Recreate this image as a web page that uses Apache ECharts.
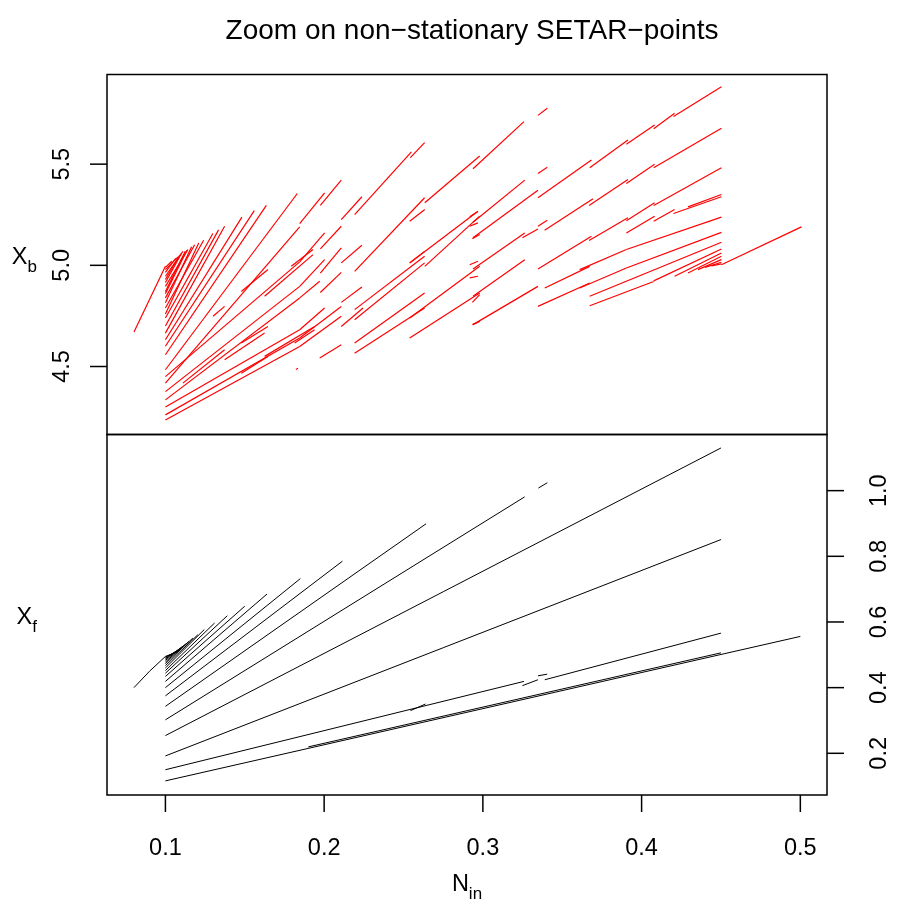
<!DOCTYPE html>
<html>
<head>
<meta charset="utf-8">
<script src="https://cdn.jsdelivr.net/npm/echarts@6/dist/echarts.min.js"></script>
<style>
html,body{margin:0;padding:0;background:#fff;}
#c{width:899px;height:905px;}
</style>
</head>
<body>
<div id="c"></div>
<script>
// ---- tick values ----
const xTicks = [0.1, 0.2, 0.3, 0.4, 0.5];
const yTopTicks = [4.5, 5.0, 5.5];
const yBotTicks = [0.2, 0.4, 0.6, 0.8, 1.0];

// ---- top panel (X_b) segments: [x0, y0, x1, y1] ----
const topFan = [
  [0.0802,4.670,0.1,4.995],
  [0.1,4.990,0.1040,5.020],[0.1,4.979,0.1079,5.042],[0.1,4.965,0.1065,5.035],
  [0.1,4.946,0.1110,5.069],[0.1,4.930,0.1090,5.050],[0.1,4.915,0.1100,5.058],
  [0.1,4.896,0.1142,5.078],[0.1,4.870,0.1125,5.070],[0.1,4.860,0.1135,5.075],
  [0.1,4.839,0.1184,5.102],[0.1,4.815,0.1165,5.092],[0.1,4.789,0.1241,5.124],
  [0.1,4.760,0.1210,5.110],[0.1,4.740,0.1299,5.157],[0.1,4.700,0.1335,5.175],
  [0.1,4.665,0.1373,5.193],[0.1,4.632,0.1482,5.238],[0.1,4.600,0.1560,5.270],
  [0.1,4.558,0.1636,5.296],[0.1,4.484,0.1831,5.355],[0.1,4.418,0.1846,5.190]
];
const topLeft = [
  [0.1,4.450,0.1846,5.017],[0.1,4.376,0.1846,4.896],[0.1,4.335,0.1846,4.839],
  [0.1,4.300,0.1846,4.682],[0.1,4.261,0.1846,4.641],[0.1,4.236,0.1846,4.599],
  [0.1110,4.418,0.1373,4.583],[0.1373,4.533,0.1625,4.665],[0.1478,4.616,0.1646,4.698],
  [0.1300,4.748,0.1373,4.797],[0.1625,4.550,0.1940,4.698],[0.1478,4.467,0.1646,4.550],
  [0.1814,4.616,0.1940,4.682],[0.1625,4.847,0.1930,5.053],[0.1478,4.871,0.1646,4.979],
  [0.1793,4.995,0.1930,5.078],[0.1822,4.485,0.1835,4.492],
  [0.1846,5.206,0.2003,5.358],[0.1976,5.296,0.2108,5.421],[0.2108,5.226,0.2238,5.339],
  [0.2192,5.251,0.2550,5.561],[0.2543,5.532,0.2633,5.606],[0.1846,5.017,0.2003,5.160],
  [0.1976,5.081,0.2108,5.193],[0.2108,5.012,0.2238,5.099],[0.2192,4.970,0.2633,5.334],
  [0.2539,5.218,0.2634,5.276],[0.1846,4.896,0.2003,5.028],[0.1976,4.962,0.2108,5.086],
  [0.1846,4.839,0.1972,4.921],[0.1976,4.866,0.2108,4.965],[0.2108,4.817,0.2238,4.893],
  [0.2192,4.781,0.2633,5.045],[0.2108,4.698,0.2245,4.789],[0.2192,4.731,0.2633,5.012],
  [0.2539,5.012,0.2633,5.069],[0.2192,4.616,0.2633,4.863],[0.2192,4.566,0.2633,4.789],
  [0.1846,4.682,0.2003,4.789],[0.1846,4.641,0.2108,4.797],[0.1846,4.599,0.2108,4.748],
  [0.1972,4.542,0.2108,4.607]
];
const topMid = [
  [0.2938,5.477,0.3259,5.710],[0.3347,5.741,0.3406,5.776],[0.2634,5.309,0.2980,5.540],
  [0.3347,5.454,0.3406,5.485],[0.2938,5.213,0.3264,5.421],[0.2938,5.136,0.3347,5.371],
  [0.3249,5.136,0.3347,5.180],[0.3347,5.193,0.3406,5.223],[0.2938,4.982,0.3264,5.160],
  [0.2938,4.847,0.3264,5.028],[0.2938,4.707,0.3347,4.896],[0.3390,4.888,0.3673,4.995],
  [0.3347,4.797,0.3673,4.913],[0.2634,4.995,0.2980,5.243],[0.2539,5.012,0.2969,5.267],
  [0.2539,4.740,0.2980,4.995],[0.2539,4.641,0.2980,4.863],[0.2934,5.132,0.2980,5.152],
  [0.2934,4.707,0.2980,4.723],[0.2934,4.817,0.2980,4.855],[0.2917,5.240,0.2969,5.266],
  [0.2917,5.193,0.2969,5.210],[0.2917,5.003,0.2969,5.020],[0.2917,4.938,0.2969,4.946]
];
const topRight = [
  [0.3347,5.334,0.3684,5.520],[0.3673,5.482,0.3914,5.619],[0.3904,5.598,0.4082,5.693],
  [0.4076,5.675,0.4208,5.751],[0.4201,5.735,0.4503,5.883],
  [0.3389,5.173,0.3694,5.329],[0.3669,5.296,0.3914,5.424],[0.3904,5.404,0.4082,5.499],
  [0.4076,5.482,0.4503,5.677],
  [0.3347,4.982,0.3684,5.144],[0.3669,5.123,0.3914,5.235],[0.3904,5.220,0.4082,5.309],
  [0.4076,5.296,0.4503,5.482],
  [0.3904,5.160,0.4082,5.243],[0.4076,5.218,0.4208,5.276],[0.4201,5.256,0.4503,5.339],
  [0.4292,5.289,0.4503,5.350],
  [0.3610,4.979,0.3904,5.078],[0.3904,5.078,0.4503,5.238],
  [0.3610,4.888,0.3904,4.987],[0.3904,4.987,0.4503,5.163],
  [0.3673,4.847,0.4503,5.114],[0.3673,4.800,0.4076,4.920],[0.4076,4.923,0.4503,5.081],
  [0.4208,4.946,0.4503,5.061],[0.4292,4.962,0.4503,5.045],[0.4355,4.979,0.4503,5.028],
  [0.4400,4.990,0.4503,5.015],[0.4440,4.997,0.4503,5.007],
  [0.4503,5.003,0.5007,5.190]
];

// ---- bottom panel (X_f) segments ----
const botMain = [
  [0.0802,0.400,0.0900,0.450],[0.0900,0.450,0.1,0.495],
  [0.1,0.116,0.5,0.556],[0.19,0.2195,0.45,0.506],
  [0.1,0.150,0.3259,0.419],[0.339,0.424,0.45,0.566],
  [0.1,0.192,0.45,0.851],[0.1,0.254,0.45,1.130],
  [0.1,0.302,0.3263,0.981],[0.1,0.343,0.2642,0.899],
  [0.1,0.375,0.2115,0.785],[0.1,0.400,0.185,0.732]
];
const botFan = [
  [0.1,0.419,0.164,0.685],[0.1,0.434,0.150,0.648],[0.1,0.444,0.139,0.619],
  [0.1,0.452,0.131,0.597],[0.1,0.460,0.1245,0.577],[0.1,0.467,0.1204,0.561],
  [0.1,0.473,0.1173,0.551],[0.1,0.478,0.1148,0.541],[0.1,0.483,0.1128,0.533],
  [0.1,0.487,0.1110,0.526],[0.1,0.490,0.1096,0.520],[0.1,0.493,0.1085,0.514],
  [0.1,0.495,0.1075,0.509]
];
const botFrag = [
  [0.335,1.008,0.3406,1.024],[0.2544,0.330,0.2638,0.350],
  [0.3249,0.406,0.3347,0.424],[0.3347,0.436,0.3405,0.441]
];

const xMin = 0.0632, xMax = 0.5168;
const yTopMin = 4.164, yTopMax = 5.943;
const yBotMin = 0.073, yBotMax = 1.171;

function segRenderer(color, w){
  return function(params, api){
    const p0 = api.coord([api.value(0), api.value(1)]);
    const p1 = api.coord([api.value(2), api.value(3)]);
    return {type:'line', shape:{x1:p0[0],y1:p0[1],x2:p1[0],y2:p1[1]},
            style:{stroke:color, lineWidth:w}};
  };
}

const FONT = 'Liberation Sans';
const labFS = 23.5;
const TICK = 17;
const subRich = {
  n:{fontFamily:FONT, fontSize:labFS, color:'#000', lineHeight:30, verticalAlign:'bottom'},
  s:{fontFamily:FONT, fontSize:17, color:'#000', lineHeight:30, verticalAlign:'bottom', padding:[0,0,-6,0]}
};
const segEnc = {x:[0,2], y:[1,3]};
const hiddenAxis = {axisLine:{show:false}, axisTick:{show:false}, axisLabel:{show:false}, splitLine:{show:false}};

// tick segments, in the same [x0,y0,x1,y1] form, drawn inside thin strip grids
// placed just outside the panels (strip axes share the panels' ranges)
const xTickSegs = xTicks.map(v => [v, 0, v, 1]);
const yTopTickSegs = yTopTicks.map(v => [0, v, 1, v]);
const yBotTickSegs = yBotTicks.map(v => [0, v, 1, v]);

const chart = echarts.init(document.getElementById('c'), null, {renderer:'canvas'});
chart.setOption({
  animation:false,
  backgroundColor:'#fff',
  title:{
    text:'Zoom on non\u2212stationary SETAR\u2212points',
    left:467, top:12, textAlign:'center',
    textStyle:{fontFamily:FONT, fontSize:28, fontWeight:'normal', color:'#000'}
  },
  grid:[
    {left:107, top:74.5, width:720, height:360, show:true, borderColor:'#000', borderWidth:1.5, backgroundColor:'transparent'},
    {left:107, top:434.5, width:720, height:360.5, show:true, borderColor:'#000', borderWidth:1.5, backgroundColor:'transparent'},
    {left:107, top:795, width:720, height:TICK, show:false},
    {left:107-TICK, top:74.5, width:TICK, height:360, show:false},
    {left:827, top:434.5, width:TICK, height:360.5, show:false}
  ],
  xAxis:[
    Object.assign({type:'value', gridIndex:0, min:xMin, max:xMax}, hiddenAxis),
    {type:'value', gridIndex:1, position:'bottom', min:xMin, max:xMax, axisLine:{show:false},
     axisTick:{show:false},
     axisLabel:{show:true, customValues:xTicks, margin:42, fontFamily:FONT, fontSize:labFS, color:'#000', formatter:v=>v.toFixed(1)},
     splitLine:{show:false},
     name:'{n|N}{s|in}', nameLocation:'middle', nameGap:72,
     nameTextStyle:{rich:subRich}},
    Object.assign({type:'value', gridIndex:2, min:xMin, max:xMax}, hiddenAxis),
    Object.assign({type:'value', gridIndex:3, min:0, max:1}, hiddenAxis),
    Object.assign({type:'value', gridIndex:4, min:0, max:1}, hiddenAxis)
  ],
  yAxis:[
    {type:'value', gridIndex:0, position:'left', min:yTopMin, max:yTopMax, axisLine:{show:false},
     axisTick:{show:false},
     axisLabel:{show:true, customValues:yTopTicks, rotate:90, margin:32, fontFamily:FONT, fontSize:labFS, color:'#000', formatter:v=>v.toFixed(1)},
     splitLine:{show:false},
     name:'{n|X}{s|b}', nameLocation:'middle', nameRotate:0, nameGap:70,
     nameTextStyle:{rich:subRich}},
    {type:'value', gridIndex:1, position:'right', min:yBotMin, max:yBotMax, axisLine:{show:false},
     axisTick:{show:false},
     axisLabel:{show:true, customValues:yBotTicks, rotate:90, margin:41, fontFamily:FONT, fontSize:labFS, color:'#000', formatter:v=>v.toFixed(1)},
     splitLine:{show:false}},
    {type:'value', gridIndex:1, position:'left', min:yBotMin, max:yBotMax, axisLine:{show:false}, axisTick:{show:false}, axisLabel:{show:false}, splitLine:{show:false},
     name:'{n|X}{s|f}', nameLocation:'middle', nameRotate:0, nameGap:70,
     nameTextStyle:{rich:subRich}},
    Object.assign({type:'value', gridIndex:2, min:0, max:1}, hiddenAxis),
    Object.assign({type:'value', gridIndex:3, min:yTopMin, max:yTopMax}, hiddenAxis),
    Object.assign({type:'value', gridIndex:4, min:yBotMin, max:yBotMax}, hiddenAxis)
  ],
  series:[
    {type:'custom', name:'Xb fan', xAxisIndex:0, yAxisIndex:0, data:topFan, renderItem:segRenderer('#ff0000',1.2), encode:segEnc},
    {type:'custom', name:'Xb left', xAxisIndex:0, yAxisIndex:0, data:topLeft, renderItem:segRenderer('#ff0000',1.2), encode:segEnc},
    {type:'custom', name:'Xb mid', xAxisIndex:0, yAxisIndex:0, data:topMid, renderItem:segRenderer('#ff0000',1.2), encode:segEnc},
    {type:'custom', name:'Xb right', xAxisIndex:0, yAxisIndex:0, data:topRight, renderItem:segRenderer('#ff0000',1.2), encode:segEnc},
    {type:'custom', name:'Xf main', xAxisIndex:1, yAxisIndex:1, data:botMain, renderItem:segRenderer('#000000',1), encode:segEnc},
    {type:'custom', name:'Xf fan', xAxisIndex:1, yAxisIndex:1, data:botFan, renderItem:segRenderer('#000000',1), encode:segEnc},
    {type:'custom', name:'Xf frag', xAxisIndex:1, yAxisIndex:1, data:botFrag, renderItem:segRenderer('#000000',1), encode:segEnc},
    {type:'custom', name:'x ticks', xAxisIndex:2, yAxisIndex:3, data:xTickSegs, renderItem:segRenderer('#000000',1.5), encode:segEnc},
    {type:'custom', name:'Xb ticks', xAxisIndex:3, yAxisIndex:4, data:yTopTickSegs, renderItem:segRenderer('#000000',1.5), encode:segEnc},
    {type:'custom', name:'Xf ticks', xAxisIndex:4, yAxisIndex:5, data:yBotTickSegs, renderItem:segRenderer('#000000',1.5), encode:segEnc}
  ]
});
</script>
</body>
</html>
